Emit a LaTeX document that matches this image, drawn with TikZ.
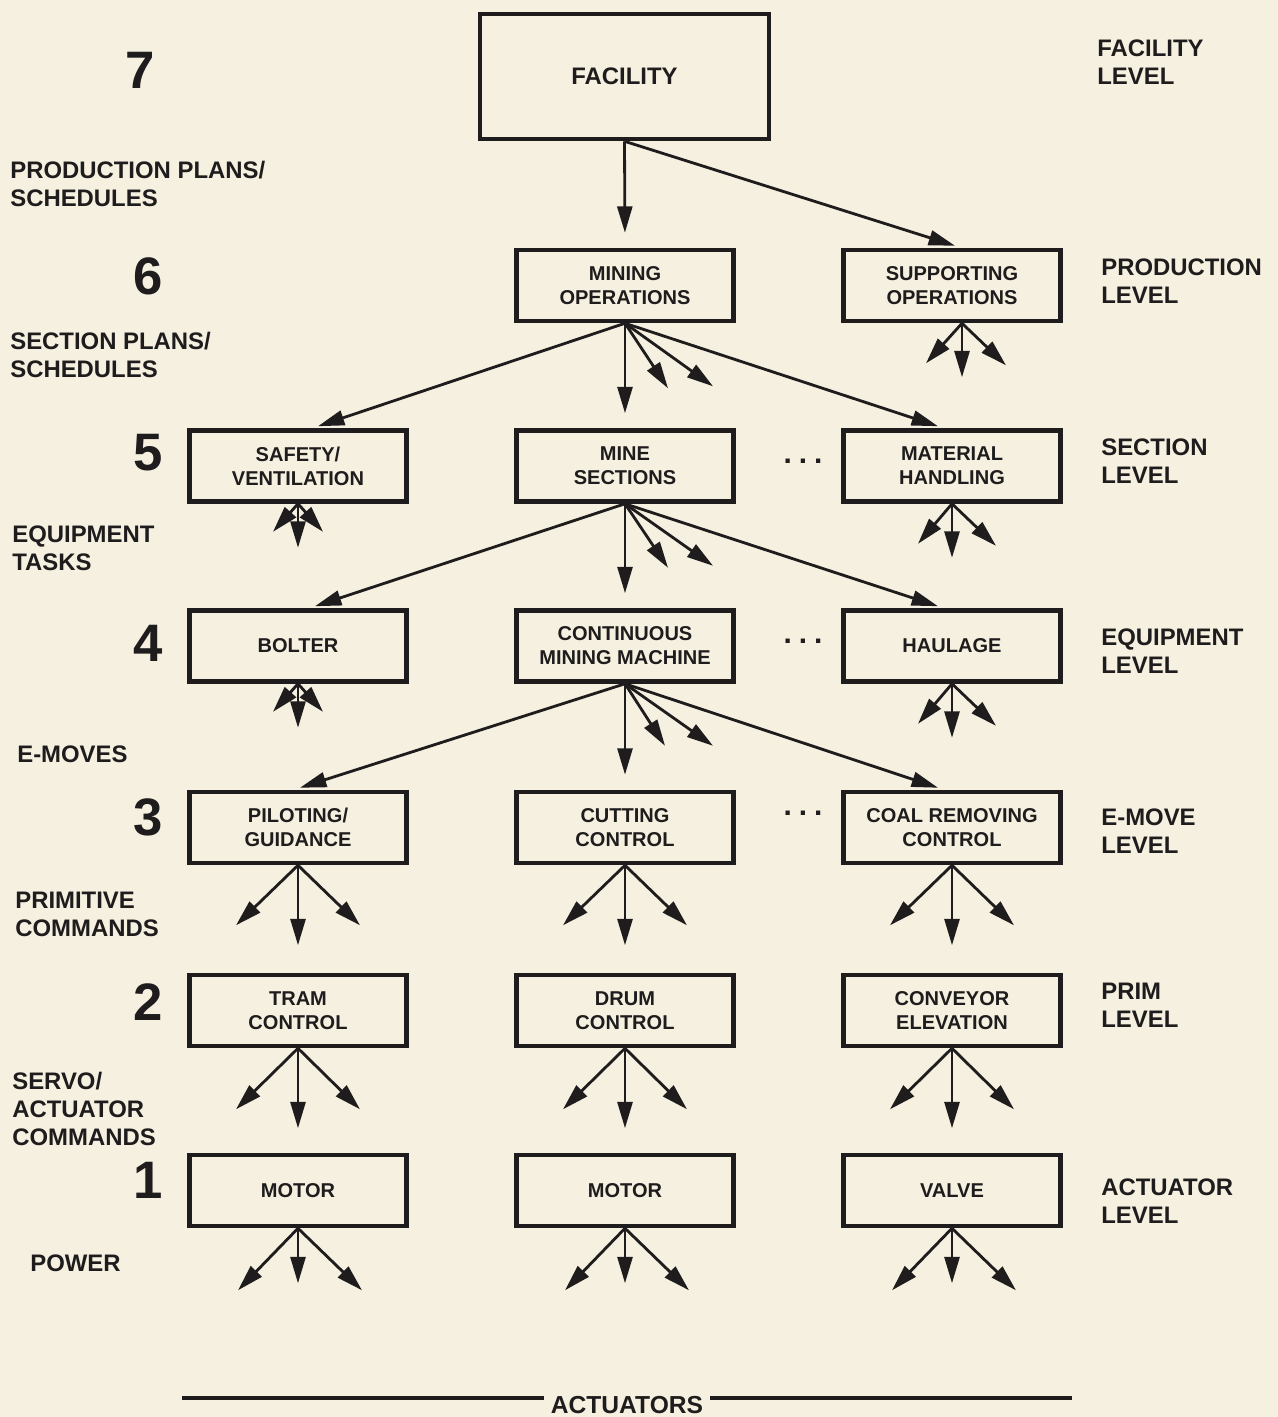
\documentclass[tikz,border=0pt]{standalone}
\usepackage{fontspec}
\setmainfont{Liberation Sans}
\usetikzlibrary{arrows.meta,calc}
\definecolor{bg}{RGB}{245,240,224}
\definecolor{ink}{RGB}{30,28,28}
\begin{document}
\begin{tikzpicture}[x=0.02cm,y=-0.02cm,
  box/.style={draw=ink, line width=2.6pt, fill=bg, minimum width=4.34cm, minimum height=1.42cm,
    align=center, font=\bfseries\fontsize{11.4}{13.7}\selectfont, text=ink, inner sep=0pt},
  arr/.style={draw=ink, line width=1.6pt, -{Triangle[length=15pt,width=8.5pt]}},
  sidelbl/.style={anchor=west, align=left, font=\bfseries\fontsize{13.6}{15.9}\selectfont, text=ink, inner sep=0pt},
  num/.style={font=\bfseries\fontsize{30}{30}\selectfont, text=ink, inner sep=0pt},
  dots/.style={font=\bfseries\fontsize{17}{17}\selectfont, text=ink, inner sep=0pt},
  gapv/.style={shorten >=0.3cm}
]
\fill[bg] (0,0) rectangle (1278,1417);
\useasboundingbox (0,0) rectangle (1278,1417);

% boxes
\node[box, minimum width=5.78cm, minimum height=2.5cm, font=\bfseries\fontsize{13.6}{16}\selectfont] (fac) at (624.5,76.5) {FACILITY};
\node[box] (mo) at (625,285.5) {MINING\\OPERATIONS};
\node[box] (so) at (952,285.5) {SUPPORTING\\OPERATIONS};
\node[box] (sv) at (298,466) {SAFETY/\\VENTILATION};
\node[box] (ms) at (625,466) {MINE\\SECTIONS};
\node[box] (mh) at (952,466) {MATERIAL\\HANDLING};
\node[box] (bo) at (298,646) {BOLTER};
\node[box] (cm) at (625,646) {CONTINUOUS\\MINING MACHINE};
\node[box] (ha) at (952,646) {HAULAGE};
\node[box] (pg) at (298,827.5) {PILOTING/\\GUIDANCE};
\node[box] (cc) at (625,827.5) {CUTTING\\CONTROL};
\node[box] (cr) at (952,827.5) {COAL REMOVING\\CONTROL};
\node[box] (tc) at (298,1010.5) {TRAM\\CONTROL};
\node[box] (dc) at (625,1010.5) {DRUM\\CONTROL};
\node[box] (ce) at (952,1010.5) {CONVEYOR\\ELEVATION};
\node[box] (m1) at (298,1190.5) {MOTOR};
\node[box] (m2) at (625,1190.5) {MOTOR};
\node[box] (va) at (952,1190.5) {VALVE};

% dots
\node[dots] (d5) at (803,461) {.\hspace{0.14cm}.\hspace{0.14cm}.};
\node[dots] (d4) at (803,641) {.\hspace{0.14cm}.\hspace{0.14cm}.};
\node[dots] (d3) at (803,813) {.\hspace{0.14cm}.\hspace{0.14cm}.};

% level numbers
\node[num] (n7) at (140,70) {7};
\node[num] (n6) at (148,276) {6};
\node[num] (n5) at (148,453) {5};
\node[num] (n4) at (148,643) {4};
\node[num] (n3) at (148,817) {3};
\node[num] (n2) at (148,1002) {2};
\node[num] (n1) at (148,1180) {1};

% left labels
\node[sidelbl] (l1) at (10,183.5) {PRODUCTION PLANS/\\SCHEDULES};
\node[sidelbl] (l2) at (10,355) {SECTION PLANS/\\SCHEDULES};
\node[sidelbl] (l3) at (12,548) {EQUIPMENT\\TASKS};
\node[sidelbl] (l4) at (17,754) {E-MOVES};
\node[sidelbl] (l5) at (15,914) {PRIMITIVE\\COMMANDS};
\node[sidelbl] (l6) at (12,1109) {SERVO/\\ACTUATOR\\COMMANDS};
\node[sidelbl] (l7) at (30,1263) {POWER};

% right labels
\node[sidelbl] (r7) at (1097,62) {FACILITY\\LEVEL};
\node[sidelbl] (r6) at (1101,281) {PRODUCTION\\LEVEL};
\node[sidelbl] (r5) at (1101,461) {SECTION\\LEVEL};
\node[sidelbl] (r4) at (1101,651) {EQUIPMENT\\LEVEL};
\node[sidelbl] (r3) at (1101,831) {E-MOVE\\LEVEL};
\node[sidelbl] (r2) at (1101,1005) {PRIM\\LEVEL};
\node[sidelbl] (r1) at (1101,1201) {ACTUATOR\\LEVEL};

% facility
\draw[arr, gapv] (fac.south) -- (mo.north);
\draw[arr] (fac.south) -- ($(so.north)+(3,-2)$);

% mining operations fan
\draw[arr] (mo.south) -- ($(sv.north)+(20,-2)$);
\draw[arr, gapv] (mo.south) -- (ms.north);
\draw[arr] (mo.south) -- ($(mo.south)+(43,65)$);
\draw[arr] (mo.south) -- ($(mo.south)+(88,63)$);
\draw[arr] (mo.south) -- ($(mh.north)+(-14,-2)$);

% supporting operations fan
\coordinate (so0) at ($(so.south)+(10,0)$);
\draw[arr] (so0) -- ($(so0)+(-36,40)$);
\draw[arr] (so0) -- ($(so0)+(0,54)$);
\draw[arr] (so0) -- ($(so0)+(44,42)$);

% safety fan (small)
\draw[arr] (sv.south) -- ($(sv.south)+(-25,28)$);
\draw[arr] (sv.south) -- ($(sv.south)+(0,44)$);
\draw[arr] (sv.south) -- ($(sv.south)+(25,28)$);

% mine sections fan
\draw[arr] (ms.south) -- ($(bo.north)+(17,-2)$);
\draw[arr, gapv] (ms.south) -- (cm.north);
\draw[arr] (ms.south) -- ($(ms.south)+(43,64)$);
\draw[arr] (ms.south) -- ($(ms.south)+(88,62)$);
\draw[arr] (ms.south) -- ($(ha.north)+(-14,-2)$);

% material handling fan
\draw[arr] (mh.south) -- ($(mh.south)+(-34,40)$);
\draw[arr] (mh.south) -- ($(mh.south)+(0,54)$);
\draw[arr] (mh.south) -- ($(mh.south)+(44,42)$);

% bolter fan (small)
\draw[arr] (bo.south) -- ($(bo.south)+(-25,28)$);
\draw[arr] (bo.south) -- ($(bo.south)+(0,44)$);
\draw[arr] (bo.south) -- ($(bo.south)+(25,28)$);

% continuous mining machine fan
\draw[arr] (cm.south) -- ($(pg.north)+(2,-2)$);
\draw[arr, gapv] (cm.south) -- (cc.north);
\draw[arr] (cm.south) -- ($(cm.south)+(40,62)$);
\draw[arr] (cm.south) -- ($(cm.south)+(88,62)$);
\draw[arr] (cm.south) -- ($(cr.north)+(-14,-2)$);

% haulage fan
\draw[arr] (ha.south) -- ($(ha.south)+(-34,40)$);
\draw[arr] (ha.south) -- ($(ha.south)+(0,54)$);
\draw[arr] (ha.south) -- ($(ha.south)+(44,42)$);

% row 3 fans
\foreach \b in {pg,cc,cr}{
  \draw[arr] (\b.south) -- ($(\b.south)+(-62,60)$);
  \draw[arr] (\b.south) -- ($(\b.south)+(0,80)$);
  \draw[arr] (\b.south) -- ($(\b.south)+(62,60)$);
}
% row 2 fans
\foreach \b in {tc,dc,ce}{
  \draw[arr] (\b.south) -- ($(\b.south)+(-62,61)$);
  \draw[arr] (\b.south) -- ($(\b.south)+(0,80)$);
  \draw[arr] (\b.south) -- ($(\b.south)+(62,61)$);
}
% row 1 fans
\foreach \b in {m1,m2,va}{
  \draw[arr] (\b.south) -- ($(\b.south)+(-60,62)$);
  \draw[arr] (\b.south) -- ($(\b.south)+(0,55)$);
  \draw[arr] (\b.south) -- ($(\b.south)+(64,62)$);
}

% actuators
\node[font=\bfseries\fontsize{14}{14}\selectfont, text=ink, inner xsep=4pt, inner ysep=0pt] (act) at (627,1405) {ACTUATORS};
\coordinate (al) at (182,1398);
\coordinate (ar) at (1072,1398);
\draw[ink, line width=1.8pt] (al) -- (al -| act.west);
\draw[ink, line width=1.8pt] (ar) -- (ar -| act.east);
\end{tikzpicture}
\end{document}
